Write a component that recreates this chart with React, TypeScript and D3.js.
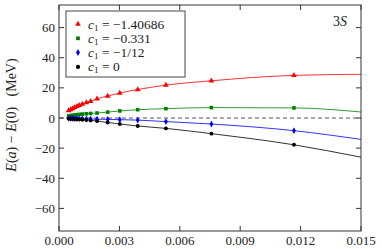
import React from 'react';
import * as d3 from 'd3';

// lattice spacing a (fm-ish units as in the plot)
const aValues = [0.00048, 0.00058, 0.00068, 0.00078, 0.00089, 0.00101, 0.00116, 0.00136, 0.00157, 0.00189, 0.00242, 0.00302, 0.00391, 0.00531, 0.00757, 0.01167];

const redVals = [4.9, 5.6, 6.3, 7.0, 7.7, 8.4, 9.2, 10.2, 11.1, 12.7, 14.6, 16.6, 18.9, 21.8, 24.7, 28.3];
const greenVals = [1.4, 1.6, 1.8, 2.0, 2.2, 2.4, 2.6, 2.8, 3.0, 3.3, 3.9, 4.7, 5.5, 6.2, 6.9, 6.7];
const blueVals = [-0.2, -0.3, -0.3, -0.4, -0.4, -0.5, -0.5, -0.6, -0.7, -0.8, -0.9, -1.1, -1.4, -2.4, -4.0, -8.4];
const blackVals = [-0.4, -0.5, -0.6, -0.7, -0.8, -0.9, -1.1, -1.3, -1.6, -2.0, -3.0, -4.0, -5.3, -6.9, -10.4, -17.8];

// value of each fit curve at the right edge (a = 0.015)
const fitEndA = 0.015;
const fitEnd = [29.0, 4.0, -14.2, -26.0];

const seriesLabels = ['−1.40686', '−0.331', '−1/12', '0'];
const seriesColors = ['#ff0000', '#008000', '#0000ff', '#000000'];
const seriesShapes = [d3.symbolTriangle, d3.symbolSquare, d3.symbolDiamond, d3.symbolCircle];
const seriesValues = [redVals, greenVals, blueVals, blackVals];

const xTicks = [0, 0.003, 0.006, 0.009, 0.012, 0.015];
const yTicks = [-60, -40, -20, 0, 20, 40, 60];

const W = 382;
const H = 249;
const margin = { top: 5, right: 21, bottom: 18, left: 59 };
const font = '"Liberation Serif", "DejaVu Serif", serif';
const axisColor = '#333';

export default function App() {
  const x = d3.scaleLinear().domain([0, 0.015]).range([margin.left, W - margin.right]);
  const y = d3.scaleLinear().domain([-75, 75]).range([H - margin.bottom, margin.top]);
  const x0 = margin.left, x1 = W - margin.right, y0 = H - margin.bottom, y1 = margin.top;

  const line = d3.line<[number, number]>()
    .x(d => x(d[0]))
    .y(d => y(d[1]))
    .curve(d3.curveMonotoneX);

  const tickLen = 5;

  return (
    <svg width={W} height={H} style={{ position: 'absolute', left: 0, top: 0, background: '#fff' }}>
      <defs>
        <clipPath id="plotclip">
          <rect x={x0} y={y1} width={x1 - x0} height={y0 - y1} />
        </clipPath>
      </defs>

      {/* zero line */}
      <line x1={x0} x2={x1} y1={y(0)} y2={y(0)} stroke="#555" strokeWidth={1} strokeDasharray="4,3" />

      <g clipPath="url(#plotclip)">
        {seriesValues.map((vals, i) => {
          const pts: [number, number][] = aValues.map((a, j) => [a, vals[j]]);
          pts.push([fitEndA, fitEnd[i]]);
          return <path key={i} d={line(pts) || ''} fill="none" stroke={seriesColors[i]} strokeWidth={1} strokeOpacity={0.8} />;
        })}
        {seriesValues.map((vals, i) =>
          aValues.map((a, j) => (
            <path key={`${i}-${j}`}
              d={d3.symbol().type(seriesShapes[i]).size(i === 0 ? 14 : i === 3 ? 12 : 13)() || ''}
              transform={`translate(${x(a)},${y(vals[j])})`}
              fill={seriesColors[i]} />
          ))
        )}
      </g>

      {/* frame */}
      <rect x={x0} y={y1} width={x1 - x0} height={y0 - y1} fill="none" stroke={axisColor} strokeWidth={1} />

      {/* x ticks */}
      {xTicks.map(t => (
        <g key={`x${t}`}>
          <line x1={x(t)} x2={x(t)} y1={y0} y2={y0 - tickLen} stroke={axisColor} />
          <line x1={x(t)} x2={x(t)} y1={y1} y2={y1 + tickLen} stroke={axisColor} />
          <text x={x(t)} y={y0 + 14} textAnchor="middle" fontFamily={font} fontSize={13} fill="#222">
            {d3.format('.3f')(t)}
          </text>
        </g>
      ))}

      {/* y ticks */}
      {yTicks.map(t => (
        <g key={`y${t}`}>
          <line x1={x0} x2={x0 + tickLen} y1={y(t)} y2={y(t)} stroke={axisColor} />
          <line x1={x1} x2={x1 - tickLen} y1={y(t)} y2={y(t)} stroke={axisColor} />
          <text x={x0 - 4} y={y(t) + 4.5} textAnchor="end" fontFamily={font} fontSize={13} fill="#222">
            {t < 0 ? `−${-t}` : `${t}`}
          </text>
        </g>
      ))}

      {/* y axis label */}
      <text transform={`translate(16,${(y0 + y1) / 2 - 3}) rotate(-90)`} textAnchor="middle" fontFamily={font} fontSize={14} fill="#222" xmlSpace="preserve">
        <tspan fontStyle="italic">E</tspan>(<tspan fontStyle="italic">a</tspan>) − <tspan fontStyle="italic">E</tspan>(0)   (MeV)
      </text>

      {/* panel label */}
      <text x={x1 - 14} y={y1 + 21} textAnchor="end" fontFamily={font} fontSize={14} fill="#222">
        3<tspan fontStyle="italic">S</tspan>
      </text>

      {/* legend */}
      <rect x={66} y={11} width={119} height={66} fill="#fff" stroke="#444" strokeWidth={1} />
      {seriesLabels.map((label, i) => {
        const ly = 24 + i * 14.3;
        return (
          <g key={label}>
            <path d={d3.symbol().type(seriesShapes[i]).size(14)() || ''} transform={`translate(78,${ly})`} fill={seriesColors[i]} />
            <text x={88} y={ly + 4.5} fontFamily={font} fontSize={13.5} fill="#222">
              <tspan fontStyle="italic">c</tspan><tspan fontSize={9} dy={2}>1</tspan><tspan dy={-2}> = {label}</tspan>
            </text>
          </g>
        );
      })}
    </svg>
  );
}
